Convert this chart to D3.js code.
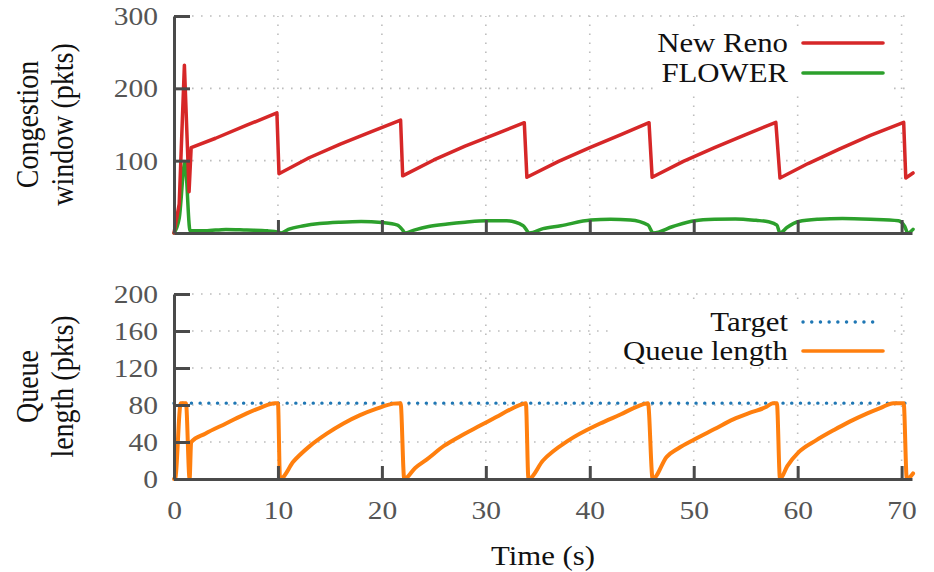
<!DOCTYPE html>
<html>
<head>
<meta charset="utf-8">
<script src="https://cdn.jsdelivr.net/npm/d3@7"></script>
<style>
  body { margin: 0; background: #fff; }
  svg { display: block; }
</style>
</head>
<body>
<svg id="chart" width="934" height="572"></svg>
<script>
const xTicks = [0, 10, 20, 30, 40, 50, 60, 70];
const cwndTicks = [100, 200, 300];
const queueTicks = [0, 40, 80, 120, 160, 200];
const queueTarget = 82;

// [time (s), cwnd (pkts)]
const newReno = [
  [0, 0], [0.5, 40], [1.0, 232], [1.45, 57], [1.65, 118],
  [4, 131], [7, 149], [9.9, 166], [10.1, 82],
  [13, 104], [16, 123], [19, 140], [21.8, 156], [22.0, 79],
  [25, 101], [28, 120], [31, 137], [33.7, 152.5], [33.95, 77],
  [37, 99], [40, 118], [43, 136], [45.7, 152.5], [46.0, 77],
  [49, 99], [52, 118], [55, 136], [57.9, 153], [58.3, 76],
  [61, 96], [64, 116], [67, 135], [70.2, 153], [70.4, 76], [71.1, 83]
];

const flower = [
  [0, 0], [0.5, 20], [1.05, 98], [1.55, 3], [3, 3], [5, 5], [7, 4], [9, 3], [10.1, 1], [10.3, 0],
  [11, 5], [12.5, 10], [14, 13], [16, 15], [18, 16], [20, 14.5], [21.5, 11], [22.0, 4], [22.2, 0],
  [23.1, 4], [24.5, 9], [26.3, 12.5], [28, 15], [30, 17], [32, 17], [33.6, 10], [34.2, 0],
  [35.5, 6], [37.2, 10], [40.1, 18], [42, 19], [43.9, 18], [45.6, 11], [46.1, 0],
  [48, 9], [50.1, 17], [52, 19], [54, 19.5], [56, 17.5], [57.2, 15.5], [58, 11], [58.3, 0],
  [59, 8], [60.1, 16], [62, 19], [64.3, 20], [67, 19], [69.7, 17], [70.3, 9], [70.6, 0], [71.1, 5]
];

// [time (s), queue (pkts)]
const queueLen = [
  [0, 0], [0.1, 0], [0.65, 82], [1.15, 82], [1.5, 0], [1.65, 40],
  [3, 49], [5, 60], [7, 71], [8.3, 77], [9.7, 82], [10.0, 82], [10.2, 0],
  [11.5, 19], [13, 35], [14.7, 49], [16.3, 60], [17.9, 69], [19.5, 76], [21.1, 81.5], [21.8, 82], [22.15, 0],
  [23.2, 12], [24.3, 21], [26, 36], [27.5, 46], [29.5, 58], [31, 67], [32.5, 76], [33.5, 81], [33.85, 82], [34.1, 0],
  [35.5, 20], [38, 42], [41, 60], [43, 70], [44.5, 78], [45.6, 82], [46.05, 0],
  [47.4, 24], [48.5, 33], [50.1, 43], [52, 54], [53.8, 64.5], [55.5, 72], [57, 78], [57.6, 82], [58.0, 82], [58.3, 0],
  [59, 14], [60.1, 29], [61.8, 42], [63.5, 53], [65, 62], [66.7, 71], [68, 77], [69.2, 82], [70.2, 82], [70.5, 0], [71.1, 6]
];

const SERIF = '"Liberation Serif", "Times New Roman", serif';
const AXIS = '#4a4a4a';
const GRID = '#bdbdbd';
const LABEL_SX = 1.1;   // the picture is a bit wider than tall
const TICK_SX = 1.18;

const svg = d3.select('#chart');

const x = d3.scaleLinear().domain([0, 71]).range([174, 912]);
const yTop = d3.scaleLinear().domain([0, 300]).range([233, 16]);
const yBot = d3.scaleLinear().domain([0, 200]).range([479, 294]);

function grid(g, y, yTicks) {
  g.append('g')
    .selectAll('line')
    .data(yTicks.filter(v => v > 0))
    .join('line')
    .attr('x1', x(0)).attr('x2', x(71))
    .attr('y1', d => y(d)).attr('y2', d => y(d))
    .attr('stroke', GRID).attr('stroke-width', 1.6)
    .attr('stroke-dasharray', '1.6,7.4');
  g.append('g')
    .selectAll('line')
    .data(xTicks.filter(v => v > 0))
    .join('line')
    .attr('x1', d => x(d)).attr('x2', d => x(d))
    .attr('y1', y.range()[0]).attr('y2', y.range()[1])
    .attr('stroke', GRID).attr('stroke-width', 1.6)
    .attr('stroke-dasharray', '1.6,7.4');
}

function axes(g, y, yTicks, withXLabels) {
  const left = g.append('g')
    .attr('transform', `translate(${x(0)},0)`)
    .call(d3.axisLeft(y).tickValues(yTicks).tickSize(-16).tickSizeOuter(0).tickPadding(16));
  const bottom = g.append('g')
    .attr('transform', `translate(0,${y(0)})`)
    .call(d3.axisBottom(x).tickValues(xTicks).tickSize(-13).tickSizeOuter(0)
      .tickFormat(withXLabels ? d3.format('d') : ''));

  [left, bottom].forEach(a => {
    a.select('.domain').attr('stroke', AXIS).attr('stroke-width', 3);
    a.selectAll('.tick line').attr('stroke', AXIS).attr('stroke-width', 3);
    a.selectAll('text')
      .attr('fill', '#555')
      .style('font-family', SERIF)
      .style('font-size', '25px');
  });

  left.selectAll('text')
    .attr('x', null)
    .attr('dy', '0.34em')
    .attr('transform', `translate(-16,0) scale(${TICK_SX},1)`);

  bottom.selectAll('text')
    .attr('y', null)
    .attr('dy', null)
    .attr('transform', `translate(0,${519 - y(0)}) scale(${TICK_SX},1)`);
}

function label(g, px, py, str, opts = {}) {
  return g.append('text')
    .attr('transform', `translate(${px},${py}) scale(${LABEL_SX},1)${opts.rotate ? ' rotate(-90)' : ''}`)
    .attr('text-anchor', opts.anchor || 'middle')
    .attr('fill', '#111')
    .style('font-family', SERIF)
    .style('font-size', '28px')
    .text(str);
}

function series(g, data, y, color, width, curve) {
  g.append('path')
    .datum(data)
    .attr('d', d3.line().curve(curve).x(d => x(d[0])).y(d => y(d[1])))
    .attr('fill', 'none')
    .attr('stroke', color)
    .attr('stroke-width', width)
    .attr('stroke-linejoin', 'round')
    .attr('stroke-linecap', 'round');
}

function legend(g, box, rows) {
  g.append('rect')
    .attr('x', box[0]).attr('y', box[1])
    .attr('width', box[2] - box[0]).attr('height', box[3] - box[1])
    .attr('fill', '#fff');
  rows.forEach(r => {
    label(g, 788, r.y + 9, r.name, { anchor: 'end' });
    g.append('line')
      .attr('x1', 803).attr('x2', r.dotted ? 877 : 883)
      .attr('y1', r.y).attr('y2', r.y)
      .attr('stroke', r.color)
      .attr('stroke-width', r.dotted ? 3.4 : 3.6)
      .attr('stroke-linecap', 'round')
      .attr('stroke-dasharray', r.dotted ? '0.1,8.6' : null);
  });
}

// top panel: congestion window
const cwndPanel = svg.append('g');
grid(cwndPanel, yTop, cwndTicks.concat([0]));
series(cwndPanel, flower, yTop, '#2ca02c', 3.5, d3.curveMonotoneX);
series(cwndPanel, newReno, yTop, '#d62728', 3.5, d3.curveLinear);
axes(cwndPanel, yTop, cwndTicks, false);
legend(cwndPanel, [655, 26, 893, 90], [
  { name: 'New Reno', y: 43, color: '#d62728' },
  { name: 'FLOWER', y: 73, color: '#2ca02c' }
]);
label(cwndPanel, 38, 124.5, 'Congestion', { rotate: true });
label(cwndPanel, 73, 124.5, 'window (pkts)', { rotate: true });

// bottom panel: queue length
const queuePanel = svg.append('g');
grid(queuePanel, yBot, queueTicks);
queuePanel.append('line')
  .attr('x1', x(0)).attr('x2', x(71))
  .attr('y1', yBot(queueTarget)).attr('y2', yBot(queueTarget))
  .attr('stroke', '#1f77b4').attr('stroke-width', 3.4)
  .attr('stroke-linecap', 'round')
  .attr('stroke-dasharray', '0.1,8.6');
series(queuePanel, queueLen, yBot, '#ff7f0e', 4, d3.curveMonotoneX);
axes(queuePanel, yBot, queueTicks, true);
legend(queuePanel, [614, 305, 893, 364], [
  { name: 'Target', y: 322, color: '#1f77b4', dotted: true },
  { name: 'Queue length', y: 351, color: '#ff7f0e' }
]);
label(queuePanel, 38, 386.5, 'Queue', { rotate: true });
label(queuePanel, 73, 386.5, 'length (pkts)', { rotate: true });

label(svg, 543, 565, 'Time (s)');
</script>
</body>
</html>
